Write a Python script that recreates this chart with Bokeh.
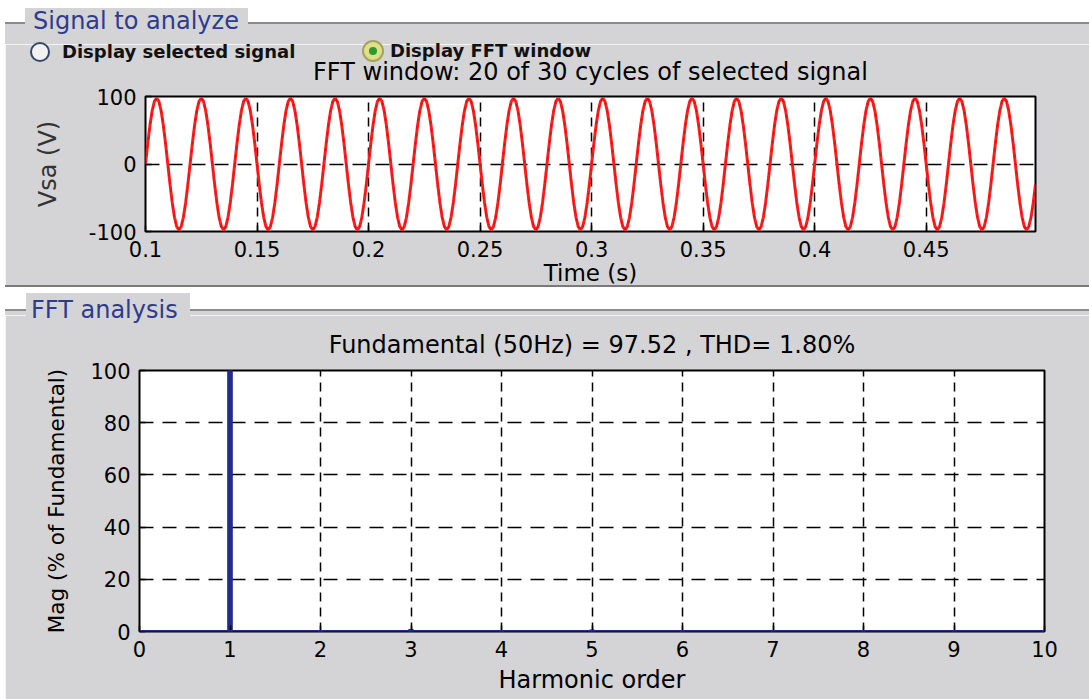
import numpy as np
from bokeh.plotting import figure
from bokeh.layouts import column, row
from bokeh.models import Range1d, FixedTicker, Span, Div
from bokeh.embed import file_html
from bokeh.resources import INLINE

# ---------------- data ----------------
signal_t0 = 0.1            # s, start of FFT window
signal_dt = 0.001          # s, sample step
signal_cycles = 20         # cycles shown (20 of 30)
cycle_samples = [0.0, 30.1, 57.3, 78.9, 92.7, 97.5, 92.7, 78.9, 57.3, 30.1,
                 0.0, -30.1, -57.3, -78.9, -92.7, -97.5, -92.7, -78.9, -57.3, -30.1]

time_ticks = [0.1, 0.15, 0.2, 0.25, 0.3, 0.35, 0.4, 0.45]
time_tick_labels = ["0.1", "0.15", "0.2", "0.25", "0.3", "0.35", "0.4", "0.45"]
volt_ticks = [-100, 0, 100]
volt_tick_labels = ["-100", "0", "100"]

harmonic_order = [0, 1, 2, 3, 4, 5, 6, 7, 8, 9, 10]
harmonic_mag = [0.3, 100.0, 0.2, 0.8, 0.1, 0.6, 0.1, 0.4, 0.1, 0.3, 0.1]
harm_ticks = [0, 1, 2, 3, 4, 5, 6, 7, 8, 9, 10]
mag_ticks = [0, 20, 40, 60, 80, 100]

top_title = "FFT window: 20 of 30 cycles of selected signal"
bottom_title = "Fundamental (50Hz) = 97.52 , THD= 1.80%"
panel1_name = "Signal to analyze"
panel2_name = "FFT analysis"
radio1_text = "Display selected signal"
radio2_text = "Display FFT window"

# ---------------- style ----------------
GRAY = "#d4d4d6"
EDGE = "#8c8c8c"
BLUE_TXT = "#2f3b8e"
FONT = "DejaVu Sans"
W = 1084          # width of every block (page is 1089 wide, 5px white at left)
MARGIN = (0, 0, 0, 5)
OVERLAY_STYLES = {"overflow": "visible", "z-index": "10", "position": "relative"}

vsa = np.tile(np.array(cycle_samples), signal_cycles)
t = signal_t0 + signal_dt * np.arange(len(vsa))


def style_axes(p):
    for ax in (p.xaxis[0], p.yaxis[0]):
        ax.axis_line_color = None
        ax.major_tick_in = 6
        ax.major_tick_out = 0
        ax.minor_tick_line_color = None
        ax.major_tick_line_color = "black"
        ax.major_tick_line_width = 1.5
        ax.major_label_text_font = FONT
        ax.major_label_text_font_size = "21px"
        ax.major_label_text_color = "black"
        ax.major_label_standoff = 9
        ax.axis_label_text_font = FONT
        ax.axis_label_text_font_style = "normal"
        ax.axis_label_text_color = "black"
    p.xgrid.grid_line_color = "black"
    p.xgrid.grid_line_width = 1.5
    p.xgrid.grid_line_dash = "9 6"
    p.ygrid.grid_line_color = "black"
    p.ygrid.grid_line_width = 1.5
    p.ygrid.grid_line_dash = "14 9"
    p.title.text_font = FONT
    p.title.text_font_size = "24px"
    p.title.text_font_style = "normal"
    p.title.text_color = "black"
    p.title.align = "center"


def el(left, top, width, height, extra=""):
    return (f'<div style="position:absolute;left:{left}px;top:{top}px;'
            f'width:{width}px;height:{height}px;box-sizing:border-box;{extra}"></div>')


def txt(left, top, text, size, color, weight="normal", lh=26):
    return (f'<div style="position:absolute;left:{left}px;top:{top}px;white-space:nowrap;'
            f'font-family:\'{FONT}\';font-size:{size}px;line-height:{lh}px;'
            f'color:{color};font-weight:{weight};">{text}</div>')


def block(height, inner, bg):
    return (f'<div style="position:relative;width:{W}px;height:{height}px;'
            f'background:{bg};overflow:visible;">{inner}</div>')


# ---------- header: caption + radio buttons (page y 0..44; radio row overlaps below) ----------
H0 = 44
header_html = block(H0, "".join([
    el(0, 0, W, 22, "background:white;"),
    el(0, 22, W, 2, f"background:{EDGE};"),
    el(20, 8, 223, 24, f"background:{GRAY};"),
    txt(28, 8, panel1_name, 24, BLUE_TXT),
    el(25, 42, 20, 20, "border-radius:50%;border:2px solid #34476a;background:#f2f2f2;"),
    txt(57, 41, radio1_text, 18, "#111111", "bold", 22),
    el(357, 40, 22, 22, "border-radius:50%;border:2px solid #a4a45a;background:#dfe08a;"),
    el(364, 47, 8, 8, "border-radius:50%;background:#2f9a2f;"),
    txt(385, 40, radio2_text, 18, "#111111", "bold", 22),
]), GRAY)
header = Div(text=header_html, width=W, height=H0, margin=MARGIN, styles=OVERLAY_STYLES)

# ---------- top figure: signal (page y 44..291) ----------
H1 = 291 - H0
p1 = figure(width=W, height=H1, output_backend="svg", toolbar_location=None,
            x_range=Range1d(signal_t0, float(t[-1])), y_range=Range1d(-100, 100),
            min_border_left=140, min_border_right=54, min_border_top=96 - H0,
            min_border_bottom=60, margin=MARGIN,
            background_fill_color="white", border_fill_color=GRAY,
            outline_line_color="black", outline_line_width=2, title=top_title)
style_axes(p1)
p1.title.standoff = 22
p1.xaxis.ticker = FixedTicker(ticks=time_ticks)
p1.xaxis.major_label_overrides = dict(zip(time_ticks, time_tick_labels))
p1.xaxis.axis_label = "Time (s)"
p1.xaxis.axis_label_text_font_size = "23px"
p1.xaxis.axis_label_standoff = 0
p1.yaxis.ticker = FixedTicker(ticks=volt_ticks)
p1.yaxis.major_label_overrides = dict(zip(volt_ticks, volt_tick_labels))
p1.yaxis.axis_label = "Vsa (V)"
p1.yaxis.axis_label_text_font_size = "24px"
p1.yaxis.axis_label_text_color = "#333333"
p1.yaxis.axis_label_standoff = 24

p1.line(t, vsa, line_color="#ff1c1c", line_width=3)
p1.line(t, vsa, line_color="#a81212", line_width=1.2, line_dash="3 5", line_alpha=0.55)

# ---------- separator: panel edge + second caption (page y 291..315, overlaps a little) ----------
H_SEP = 24
sep_html = block(H_SEP, "".join([
    el(0, -6, W, 24, "background:white;"),
    el(0, -6, W, 2, "background:#7a7a7a;"),
    el(0, 18, W, 2, f"background:{EDGE};"),
    el(0, 20, W, 4, f"background:{GRAY};"),
    el(21, 2, 164, 29, f"background:{GRAY};"),
    txt(26, 6, panel2_name, 24, BLUE_TXT),
]), "transparent")
sep = Div(text=sep_html, width=W, height=H_SEP, margin=MARGIN, styles=OVERLAY_STYLES)

# ---------- bottom figure: FFT (page y 315..699) ----------
Y2 = H0 + H1 + H_SEP
H2 = 699 - Y2
p2 = figure(width=W, height=H2, output_backend="svg", toolbar_location=None,
            x_range=Range1d(0, 10), y_range=Range1d(0, 100),
            min_border_left=134, min_border_right=45, min_border_top=370 - Y2,
            min_border_bottom=68, margin=MARGIN,
            background_fill_color="white", border_fill_color=GRAY,
            outline_line_color="black", outline_line_width=2, title=bottom_title)
style_axes(p2)
p2.title.standoff = 24
p2.xaxis.ticker = FixedTicker(ticks=harm_ticks)
p2.yaxis.ticker = FixedTicker(ticks=mag_ticks)
p2.xaxis.axis_label = "Harmonic order"
p2.xaxis.axis_label_text_font_size = "24px"
p2.xaxis.axis_label_standoff = 6
p2.yaxis.axis_label = "Mag (% of Fundamental)"
p2.yaxis.axis_label_text_font_size = "21.5px"
p2.yaxis.axis_label_standoff = 18

p2.vbar(x=harmonic_order, top=harmonic_mag, width=0.05,
        fill_color="#202c8c", line_color="#202c8c")
p2.add_layout(Span(location=0, dimension="width", line_color="#202c8c", line_width=3))

layout = column(header, row(p1), sep, row(p2), spacing=0)
open("out.html", "w").write(file_html(layout, INLINE))
